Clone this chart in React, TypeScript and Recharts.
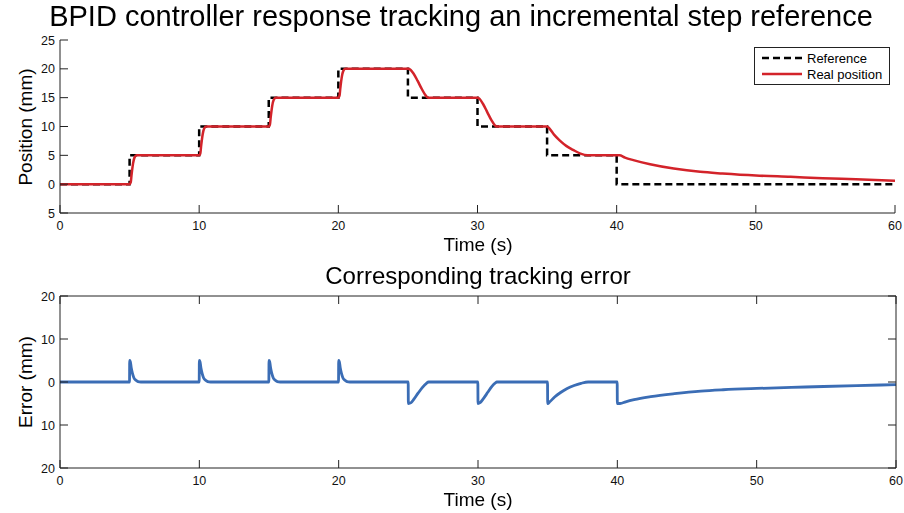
import React from 'react';
import { LineChart, Line, XAxis, YAxis } from 'recharts';

// step reference (mm) at the switching instants (s)
const refTime = [0, 5, 10, 15, 20, 25, 30, 35, 40, 60];
const refPos = [0, 5, 10, 15, 20, 15, 10, 5, 0, 0];

// measured position (mm)
const posTime = [
  0, 5, 5.08, 5.15, 5.25, 5.35, 5.5,
  10, 10.08, 10.15, 10.25, 10.35, 10.5,
  15, 15.08, 15.15, 15.25, 15.35, 15.5,
  20, 20.08, 20.15, 20.25, 20.35, 20.5,
  25, 25.2, 25.4, 25.7, 26, 26.3, 26.45,
  30, 30.15, 30.4, 30.7, 31, 31.25, 31.35,
  35, 35.15, 35.5, 35.9, 36.4, 36.9, 37.4, 37.9,
  40, 40.2, 40.6, 41.2, 42.4, 44.1, 46, 47.6, 50, 52.5, 54.8, 57.2, 60,
];
const posValue = [
  0, 0, 0.3, 1.8, 3.6, 4.6, 5,
  5, 5.3, 6.8, 8.6, 9.6, 10,
  10, 10.3, 11.8, 13.6, 14.6, 15,
  15, 15.3, 16.8, 18.6, 19.6, 20,
  20, 19.8, 19.2, 17.9, 16.5, 15.3, 15,
  15, 14.8, 13.9, 12.5, 11.1, 10.2, 10,
  10, 9.7, 8.6, 7.6, 6.6, 5.9, 5.3, 5,
  5, 5, 4.6, 4.17, 3.47, 2.72, 2.14, 1.85, 1.5, 1.27, 1.04, 0.87, 0.6,
];

// tracking error (mm)
const errTime = [
  0, 4.99, 5, 5.05, 5.12, 5.2, 5.3, 5.45, 5.6, 5.8,
  9.99, 10, 10.05, 10.12, 10.2, 10.3, 10.45, 10.6, 10.8,
  14.99, 15, 15.05, 15.12, 15.2, 15.3, 15.45, 15.6, 15.8,
  19.99, 20, 20.05, 20.12, 20.2, 20.3, 20.45, 20.6, 20.8,
  24.99, 25, 25.2, 25.4, 25.7, 26, 26.3, 26.45,
  29.99, 30, 30.15, 30.4, 30.7, 31, 31.25, 31.35,
  34.99, 35, 35.15, 35.5, 35.9, 36.4, 36.9, 37.4, 37.9,
  39.99, 40, 40.2, 40.6, 41.2, 42.4, 44.1, 46, 47.6, 50, 52.5, 54.8, 57.2, 60,
];
const errValue = [
  0, 0, 5, 4.7, 3.2, 2, 1, 0.4, 0.1, 0,
  0, 5, 4.7, 3.2, 2, 1, 0.4, 0.1, 0,
  0, 5, 4.7, 3.2, 2, 1, 0.4, 0.1, 0,
  0, 5, 4.7, 3.2, 2, 1, 0.4, 0.1, 0,
  0, -5, -4.8, -4, -2.6, -1.3, -0.3, 0,
  0, -5, -4.8, -3.8, -2.4, -1, -0.2, 0,
  0, -5, -4.6, -3.5, -2.5, -1.5, -0.8, -0.3, 0,
  0, -5, -5, -4.6, -4.1, -3.4, -2.7, -2.1, -1.8, -1.5, -1.25, -1.05, -0.85, -0.6,
];

const timeTicks = [0, 10, 20, 30, 40, 50, 60];
const posTicks = [-5, 0, 5, 10, 15, 20, 25];
const errTicks = [-20, -10, 0, 10, 20];

const refData = refTime.map((t, i) => ({ t, v: refPos[i] }));
const posData = posTime.map((t, i) => ({ t, v: posValue[i] }));
const errData = errTime.map((t, i) => ({ t, v: errValue[i] }));

const FONT = '"Liberation Sans", Arial, Helvetica, sans-serif';
const AXIS = '#222';
const TICK = 8;
const RED = '#d3232a';
const BLUE = '#3b6db5';

const LeftTick = ({ x, y, payload }: any) => (
  <g>
    <line x1={x} x2={x + TICK} y1={y} y2={y} stroke={AXIS} />
    <text x={x - 5} y={y} dy="0.36em" textAnchor="end" fontSize={12.5} fontFamily={FONT} fill="#111">
      {Math.abs(payload.value)}
    </text>
  </g>
);

const BottomTick = ({ x, y, payload }: any) => (
  <g>
    <line x1={x} x2={x} y1={y} y2={y - TICK} stroke={AXIS} />
    <text x={x} y={y + 8} dy="0.72em" textAnchor="middle" fontSize={12.5} fontFamily={FONT} fill="#111">
      {payload.value}
    </text>
  </g>
);

const RightTick = ({ x, y }: any) => <line x1={x} x2={x - TICK} y1={y} y2={y} stroke={AXIS} />;
const TopTick = ({ x, y }: any) => <line x1={x} x2={x} y1={y} y2={y + TICK} stroke={AXIS} />;

const legendItems = [
  { label: 'Reference', color: '#000', dash: '7 4' },
  { label: 'Real position', color: RED, dash: undefined },
];

const textStyle: React.CSSProperties = {
  position: 'absolute', fontFamily: FONT, color: '#000', whiteSpace: 'nowrap', lineHeight: 1,
};

export default function App() {
  return (
    <div style={{ position: 'fixed', left: 0, top: 0, width: 904, height: 513, background: '#fff' }}>
      <div style={{ position: 'absolute', left: 0, top: 0 }}>
        <LineChart width={904} height={256} margin={{ top: 40, right: 9, left: 10, bottom: 13 }}>
          <XAxis
            dataKey="t"
            type="number"
            domain={[0, 60]}
            ticks={timeTicks}
            height={30}
            tickSize={0}
            tickMargin={0}
            tick={<BottomTick />}
            axisLine={{ stroke: AXIS }}
            allowDataOverflow
          />
          <YAxis
            type="number"
            domain={[-5, 25]}
            ticks={posTicks}
            width={50}
            tickSize={0}
            tickMargin={0}
            tick={<LeftTick />}
            axisLine={{ stroke: AXIS }}
            allowDataOverflow
          />
          <Line
            data={refData}
            dataKey="v"
            name="Reference"
            type="stepAfter"
            stroke="#000"
            strokeWidth={2.5}
            strokeDasharray="7 4"
            dot={false}
            isAnimationActive={false}
          />
          <Line
            data={posData}
            dataKey="v"
            name="Real position"
            type="monotone"
            stroke={RED}
            strokeWidth={2.5}
            dot={false}
            isAnimationActive={false}
          />
        </LineChart>
      </div>

      <div style={{ position: 'absolute', left: 0, top: 256 }}>
        <LineChart width={904} height={257} margin={{ top: 39, right: 7, left: 10, bottom: 15 }}>
          <XAxis
            xAxisId="b"
            dataKey="t"
            type="number"
            domain={[0, 60]}
            ticks={timeTicks}
            height={30}
            tickSize={0}
            tickMargin={0}
            tick={<BottomTick />}
            axisLine={{ stroke: AXIS }}
            allowDataOverflow
          />
          <XAxis
            xAxisId="t"
            orientation="top"
            dataKey="t"
            type="number"
            domain={[0, 60]}
            ticks={timeTicks}
            height={1}
            tickSize={0}
            tickMargin={0}
            tick={<TopTick />}
            axisLine={{ stroke: AXIS }}
            allowDataOverflow
          />
          <YAxis
            yAxisId="l"
            type="number"
            domain={[-20, 20]}
            ticks={errTicks}
            width={50}
            tickSize={0}
            tickMargin={0}
            tick={<LeftTick />}
            axisLine={{ stroke: AXIS }}
            allowDataOverflow
          />
          <YAxis
            yAxisId="r"
            orientation="right"
            type="number"
            domain={[-20, 20]}
            ticks={errTicks}
            width={1}
            tickSize={0}
            tickMargin={0}
            tick={<RightTick />}
            axisLine={{ stroke: AXIS }}
            allowDataOverflow
          />
          <Line
            xAxisId="b"
            yAxisId="l"
            data={errData}
            dataKey="v"
            name="Error"
            type="monotone"
            stroke={BLUE}
            strokeWidth={2.8}
            dot={false}
            isAnimationActive={false}
          />
        </LineChart>
      </div>

      {/* legend of the upper plot */}
      <div
        style={{
          position: 'absolute', left: 754, top: 47, width: 134, border: `1px solid ${AXIS}`,
          background: '#fff', fontFamily: FONT, fontSize: 13, padding: '2px 0',
        }}
      >
        {legendItems.map((it) => (
          <div key={it.label} style={{ display: 'flex', alignItems: 'center', height: 16 }}>
            <svg width={52} height={16}>
              <line x1={7} x2={47} y1={8} y2={8} stroke={it.color} strokeWidth={2.5} strokeDasharray={it.dash} />
            </svg>
            <span>{it.label}</span>
          </div>
        ))}
      </div>

      <div style={{ ...textStyle, left: 0, width: 922, top: 2, textAlign: 'center', fontSize: 29 }}>
        BPID controller response tracking an incremental step reference
      </div>
      <div style={{ ...textStyle, left: 0, width: 956, top: 235, textAlign: 'center', fontSize: 19 }}>Time (s)</div>
      <div style={{ ...textStyle, left: 25, top: 127, fontSize: 19, transform: 'translate(-50%, -50%) rotate(-90deg)' }}>
        Position (mm)
      </div>

      <div style={{ ...textStyle, left: 0, width: 956, top: 264, textAlign: 'center', fontSize: 24 }}>
        Corresponding tracking error
      </div>
      <div style={{ ...textStyle, left: 0, width: 956, top: 490, textAlign: 'center', fontSize: 19 }}>Time (s)</div>
      <div style={{ ...textStyle, left: 25, top: 382, fontSize: 19, transform: 'translate(-50%, -50%) rotate(-90deg)' }}>
        Error (mm)
      </div>
    </div>
  );
}
